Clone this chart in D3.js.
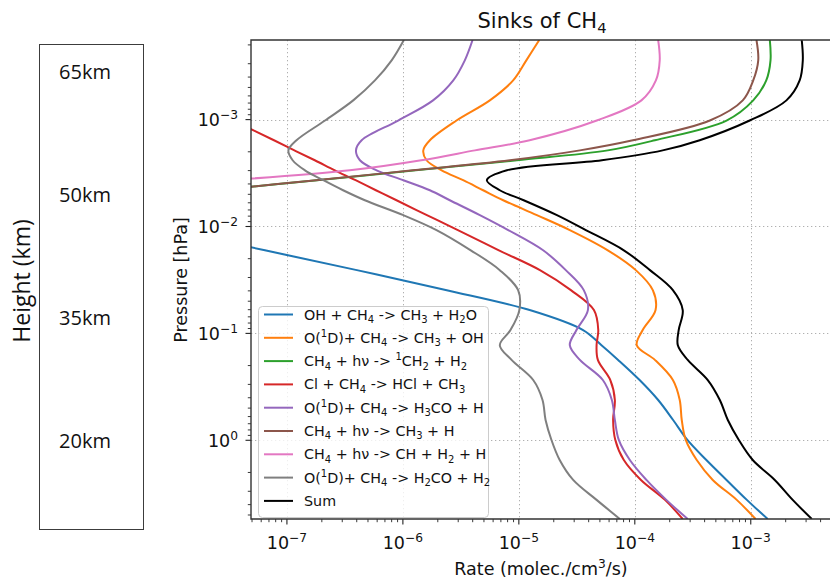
<!DOCTYPE html>
<html>
<head>
<meta charset="utf-8">
<script src="https://cdn.jsdelivr.net/npm/d3@7"></script>
<style>
  body { margin: 0; background: #fff; }
  svg { display: block; }
  text { white-space: pre; }
</style>
</head>
<body>
<svg id="chart" width="830" height="578"></svg>
<script>
// Pressure levels (hPa) shared by every sink profile
const pressure = [1.8e-4, 2.79e-4, 4.30e-4, 6.61e-4, 1.02e-3, 1.56e-3, 1.94e-3, 2.40e-3, 2.98e-3,
  3.69e-3, 4.58e-3, 5.68e-3, 7.83e-3, 1.08e-2, 1.67e-2, 2.56e-2, 3.94e-2, 6.05e-2, 9.31e-2,
  0.129, 0.177, 0.273, 0.420, 0.646, 0.993, 1.53, 2.35, 3.61, 5.45];

// Loss rates (molec./cm3/s) at each pressure level; null where the profile is not drawn
const rateOH = [null, null, null, null, null, null, null, null, null, null, null, null, null,
  1.04e-8, 6.46e-8, 4.01e-7, 2.39e-6, 1.24e-5, 3.58e-5, 5.16e-5, 7.18e-5, 1.10e-4, 1.59e-4,
  2.14e-4, 2.84e-4, 4.14e-4, 6.18e-4, 9.25e-4, 1.40e-3];
const rateO1D_OH = [1.50e-5, 1.16e-5, 8.93e-6, 5.62e-6, 2.90e-6, 1.71e-6, 1.50e-6, 1.60e-6, 2.16e-6,
  3.31e-6, 4.92e-6, 7.33e-6, 1.43e-5, 2.75e-5, 5.85e-5, 1.02e-4, 1.43e-4, 1.51e-4, 1.17e-4,
  1.04e-4, 1.49e-4, 2.13e-4, 2.44e-4, 2.54e-4, 2.75e-4, 3.42e-4, 4.70e-4, 7.57e-4, 1.10e-3];
const ratePhot1CH2 = [1.46e-3, 1.48e-3, 1.36e-3, 1.05e-3, 6.18e-4, 1.49e-4, 5.85e-5, 9.62e-6, 1.29e-6,
  1.82e-7, 2.49e-8, null, null, null, null, null, null, null, null, null, null, null, null, null,
  null, null, null, null, null];
const rateCl = [null, null, null, null, 3.42e-8, 7.73e-8, 1.16e-7, 1.74e-7, 2.59e-7, 3.91e-7, 5.85e-7,
  8.81e-7, 1.61e-6, 2.98e-6, 6.73e-6, 1.52e-5, 2.81e-5, 4.44e-5, 4.84e-5, 4.68e-5, 4.80e-5,
  6.15e-5, 6.73e-5, 6.50e-5, 6.79e-5, 8.04e-5, 1.13e-4, 1.82e-4, 2.59e-4];
const rateO1D_H3CO = [3.99e-6, 3.42e-6, 2.72e-6, 1.82e-6, 9.1e-7, 4.41e-7, 3.94e-7, 4.26e-7, 5.93e-7,
  1.01e-6, 1.71e-6, 2.54e-6, 4.61e-6, 8.09e-6, 1.62e-5, 2.54e-5, 3.63e-5, 3.94e-5, 3.14e-5,
  2.75e-5, 3.36e-5, 5.30e-5, 6.34e-5, 6.73e-5, 7.28e-5, 9.06e-5, 1.26e-4, 1.87e-4, 2.86e-4];
const ratePhotCH3 = [1.12e-3, 1.16e-3, 1.05e-3, 8.53e-4, 4.44e-4, 9.62e-5, 3.36e-5, 8.36e-6, 1.22e-6,
  1.78e-7, 2.44e-8, null, null, null, null, null, null, null, null, null, null, null, null, null,
  null, null, null, null, null];
const ratePhotCH = [1.59e-4, 1.64e-4, 1.52e-4, 1.14e-4, 4.70e-5, 1.24e-5, 4.18e-6, 1.44e-6, 3.49e-7,
  3.10e-8, null, null, null, null, null, null, null, null, null, null, null, null, null, null,
  null, null, null, null, null];
const rateO1D_H2CO = [1.02e-6, 8.0e-7, 5.74e-7, 3.73e-7, 2.13e-7, 1.21e-7, 1.03e-7, 1.12e-7, 1.43e-7,
  2.06e-7, 3.05e-7, 4.70e-7, 1.01e-6, 1.95e-6, 3.85e-6, 6.85e-6, 9.86e-6, 1.01e-5, 8.47e-6,
  6.85e-6, 8.65e-6, 1.33e-5, 1.60e-5, 1.70e-5, 1.91e-5, 2.25e-5, 2.94e-5, 4.68e-5, 7.43e-5];
const rateSum = [2.75e-3, 2.81e-3, 2.64e-3, 2.03e-3, 9.79e-4, 3.63e-4, 1.74e-4, 5.20e-5, 7.89e-6,
  5.30e-6, 6.85e-6, 1.10e-5, 2.13e-5, 3.78e-5, 8.04e-5, 1.35e-4, 2.13e-4, 2.59e-4, 2.39e-4,
  2.35e-4, 2.86e-4, 4.26e-4, 5.41e-4, 6.34e-4, 7.89e-4, 1.04e-3, 1.61e-3, 2.30e-3, 3.36e-3];

// Legend labels (_x = subscript, ^x = superscript)
const seriesLabels = [
  "OH + CH_4 -> CH_3 + H_2O",
  "O(^1D)+ CH_4 -> CH_3 + OH",
  "CH_4 + hν -> ^1CH_2 + H_2",
  "Cl + CH_4 -> HCl + CH_3",
  "O(^1D)+ CH_4 -> H_3CO + H",
  "CH_4 + hν -> CH_3 + H",
  "CH_4 + hν -> CH + H_2 + H",
  "O(^1D)+ CH_4 -> H_2CO + H_2",
  "Sum"
];
const seriesValues = [rateOH, rateO1D_OH, ratePhot1CH2, rateCl, rateO1D_H3CO,
  ratePhotCH3, ratePhotCH, rateO1D_H2CO, rateSum];
const seriesColors = ["#1f77b4", "#ff7f0e", "#2ca02c", "#d62728", "#9467bd",
  "#8c564b", "#e377c2", "#7f7f7f", "#000000"];

const xMajorTicks = [1e-7, 1e-6, 1e-5, 1e-4, 1e-3];
const yMajorTicks = [1e-3, 1e-2, 1e-1, 1];
const heightLabels = ["65km", "50km", "35km", "20km"];

// ---------------------------------------------------------------
const svg = d3.select("#chart");
const FONT = "'DejaVu Sans', sans-serif";
const plot = { left: 251, top: 40, right: 841, bottom: 519 };

const x = d3.scaleLog().domain([4.9e-8, 6e-3]).range([plot.left, plot.right]);
const y = d3.scaleLog().domain([1.8e-4, 5.45]).range([plot.top, plot.bottom]);

// text with sub/superscripts: "_c", "^c" or "^{...}"
function richText(sel, str, fs) {
  const segs = [];
  let i = 0;
  while (i < str.length) {
    const c = str[i];
    if ((c === "_" || c === "^") && i + 1 < str.length) {
      let t;
      if (str[i + 1] === "{") { const j = str.indexOf("}", i); t = str.slice(i + 2, j); i = j + 1; }
      else { t = str[i + 1]; i += 2; }
      segs.push({ t, k: c });
    } else {
      if (segs.length && segs[segs.length - 1].k === "n") segs[segs.length - 1].t += c;
      else segs.push({ t: c, k: "n" });
      i++;
    }
  }
  let shift = 0;
  segs.forEach(s => {
    const target = s.k === "_" ? fs * 0.24 : s.k === "^" ? -fs * 0.40 : 0;
    const ts = sel.append("tspan").text(s.t);
    if (target - shift !== 0) ts.attr("dy", target - shift);
    if (s.k !== "n") ts.attr("font-size", fs * 0.7);
    shift = target;
  });
  return sel;
}

// ---- left annotation panel ----
svg.append("rect").attr("x", 39.5).attr("y", 44.5).attr("width", 104).attr("height", 485)
  .attr("fill", "none").attr("stroke", "#3c3c3c").attr("stroke-width", 1);
const hy = d3.scalePoint().domain(heightLabels).range([79, 448]);
svg.selectAll("text.hlab").data(heightLabels).join("text").attr("class", "hlab")
  .attr("x", 85).attr("y", d => hy(d)).attr("text-anchor", "middle")
  .attr("font-family", "'Open Sans', sans-serif").attr("font-size", 20).attr("fill", "#111")
  .text(d => d);
svg.append("text").attr("transform", "translate(30,281) rotate(-90)")
  .attr("text-anchor", "middle").attr("font-family", "'Open Sans', sans-serif")
  .attr("font-size", 23).attr("fill", "#111").text("Height (km)");

// ---- grid ----
const grid = svg.append("g").attr("stroke", "#b0b0b0").attr("stroke-width", 1)
  .attr("stroke-dasharray", "1.3,2.7");
grid.selectAll("line.gx").data(xMajorTicks).join("line").attr("class", "gx")
  .attr("x1", d => Math.round(x(d)) + 0.5).attr("x2", d => Math.round(x(d)) + 0.5)
  .attr("y1", plot.top).attr("y2", plot.bottom);
grid.selectAll("line.gy").data(yMajorTicks).join("line").attr("class", "gy")
  .attr("y1", d => Math.round(y(d)) + 0.5).attr("y2", d => Math.round(y(d)) + 0.5)
  .attr("x1", plot.left).attr("x2", plot.right);

// ---- profiles ----
svg.append("clipPath").attr("id", "clip").append("rect")
  .attr("x", plot.left).attr("y", plot.top)
  .attr("width", plot.right - plot.left).attr("height", plot.bottom - plot.top);

const line = d3.line()
  .defined(d => d[0] != null)
  .x(d => x(d[0])).y(d => y(d[1]))
  .curve(d3.curveCatmullRom.alpha(0.5));

const lines = svg.append("g").attr("clip-path", "url(#clip)");
seriesValues.forEach((vals, k) => {
  const pts = vals.map((v, i) => [v, pressure[i]]);
  lines.append("path").attr("d", line(pts)).attr("fill", "none")
    .attr("stroke", seriesColors[k]).attr("stroke-width", 2)
    .attr("stroke-linejoin", "round").attr("stroke-linecap", "butt");
});

// ---- axes ----
function minorTicks(lo, hi) {
  const out = [];
  for (let e = Math.floor(Math.log10(lo)); e <= Math.ceil(Math.log10(hi)); e++) {
    for (let m = 2; m <= 9; m++) {
      const v = m * Math.pow(10, e);
      if (v >= lo && v <= hi) out.push(v);
    }
  }
  return out;
}
const axisColor = "#222";
const majorLen = 5.5, minorLen = 3.2;

const xAxis = svg.append("g");
xAxis.selectAll("line.mj").data(xMajorTicks).join("line")
  .attr("x1", d => x(d)).attr("x2", d => x(d))
  .attr("y1", plot.bottom).attr("y2", plot.bottom + majorLen)
  .attr("stroke", axisColor).attr("stroke-width", 1.1);
xAxis.selectAll("line.mn").data(minorTicks(...x.domain())).join("line")
  .attr("x1", d => x(d)).attr("x2", d => x(d))
  .attr("y1", plot.bottom).attr("y2", plot.bottom + minorLen)
  .attr("stroke", axisColor).attr("stroke-width", 0.9);
xAxis.selectAll("text").data(xMajorTicks).join("text")
  .attr("x", d => x(d)).attr("y", 549).attr("text-anchor", "middle")
  .attr("font-family", FONT).attr("font-size", 17.5).attr("fill", "#111")
  .each(function (d) { richText(d3.select(this), "10^{\u2212" + (-Math.log10(d)).toFixed(0) + "}", 17.5); });

const yAxis = svg.append("g");
yAxis.selectAll("line.mj").data(yMajorTicks).join("line")
  .attr("y1", d => y(d)).attr("y2", d => y(d))
  .attr("x1", plot.left).attr("x2", plot.left - majorLen)
  .attr("stroke", axisColor).attr("stroke-width", 1.1);
yAxis.selectAll("line.mn").data(minorTicks(...y.domain())).join("line")
  .attr("y1", d => y(d)).attr("y2", d => y(d))
  .attr("x1", plot.left).attr("x2", plot.left - minorLen)
  .attr("stroke", axisColor).attr("stroke-width", 0.9);
yAxis.selectAll("text").data(yMajorTicks).join("text")
  .attr("x", 238).attr("y", d => y(d) + 6.5).attr("text-anchor", "end")
  .attr("font-family", FONT).attr("font-size", 17.5).attr("fill", "#111")
  .each(function (d) {
    const e = Math.round(Math.log10(d));
    richText(d3.select(this), e === 0 ? "10^0" : "10^{\u2212" + (-e) + "}", 17.5);
  });

// spines
svg.append("path")
  .attr("d", `M${plot.right},${plot.top}H${plot.left}V${plot.bottom}H${plot.right}`)
  .attr("fill", "none").attr("stroke", "#333").attr("stroke-width", 1.4);

// ---- titles ----
richText(svg.append("text").attr("x", 542).attr("y", 28).attr("text-anchor", "middle")
  .attr("font-family", FONT).attr("font-size", 21).attr("fill", "#111"), "Sinks of CH_4", 21);
richText(svg.append("text").attr("x", 541).attr("y", 575).attr("text-anchor", "middle")
  .attr("font-family", FONT).attr("font-size", 17.5).attr("fill", "#111"), "Rate (molec./cm^3/s)", 17.5);
svg.append("text").attr("transform", "translate(187,280) rotate(-90)")
  .attr("text-anchor", "middle").attr("font-family", FONT).attr("font-size", 17.5)
  .attr("fill", "#111").text("Pressure [hPa]");

// ---- legend ----
const lg = svg.append("g");
lg.append("rect").attr("x", 258.5).attr("y", 306.5).attr("width", 230).attr("height", 211)
  .attr("rx", 4).attr("fill", "#fff").attr("fill-opacity", 0.8)
  .attr("stroke", "#cccccc").attr("stroke-width", 1);
const legFs = 14.3;
seriesLabels.forEach((lab, k) => {
  const ry = 314.5 + k * 23.3;
  lg.append("line").attr("x1", 264).attr("x2", 293).attr("y1", ry).attr("y2", ry)
    .attr("stroke", seriesColors[k]).attr("stroke-width", 2);
  richText(lg.append("text").attr("x", 304).attr("y", ry + 5)
    .attr("font-family", FONT).attr("font-size", legFs).attr("fill", "#111"), lab, legFs);
});
</script>
</body>
</html>
